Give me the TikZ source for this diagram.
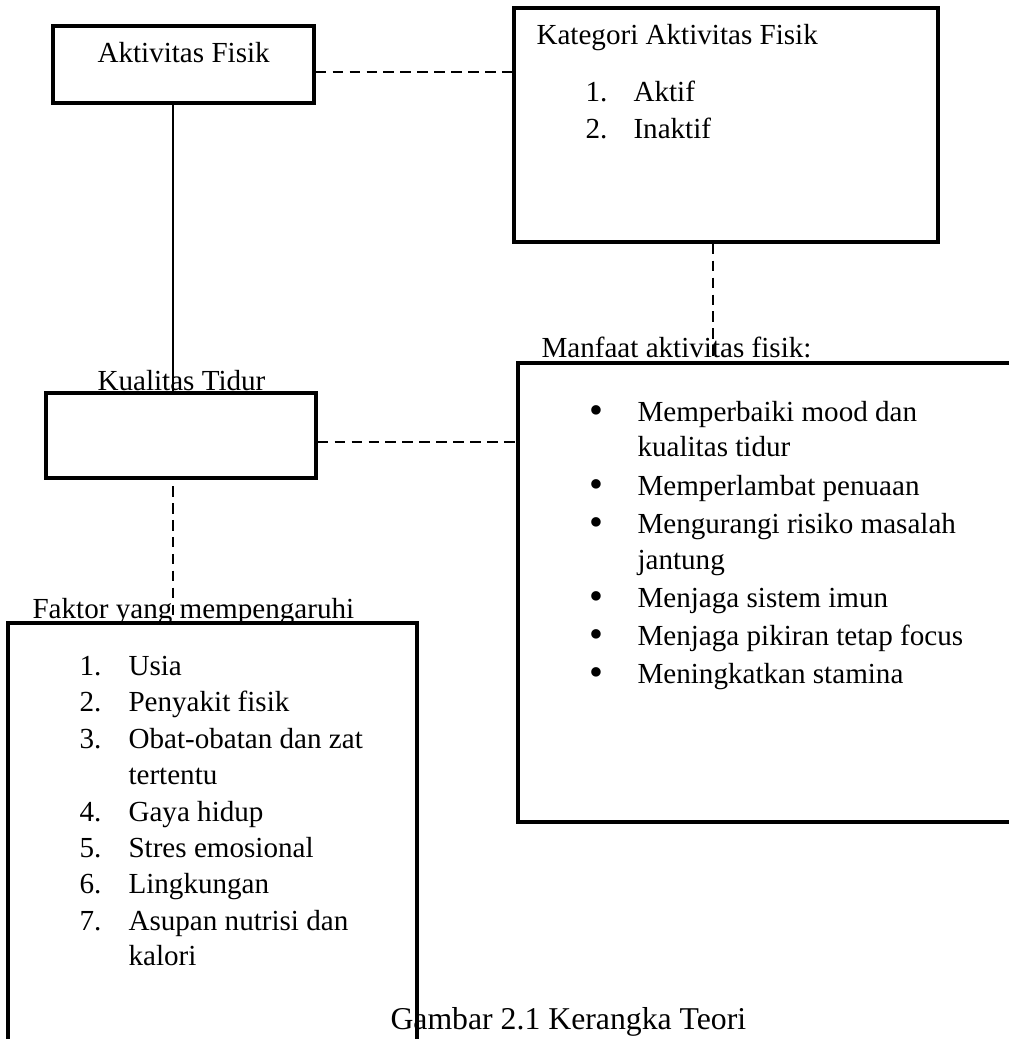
\documentclass[tikz,border=0pt]{standalone}
\usepackage{fontspec}
\setmainfont{Liberation Serif}
\begin{document}
\begin{tikzpicture}[x=0.378pt, y=-0.378pt,
  box/.style={draw=black, line width=1.3pt, inner sep=0pt},
  txt/.style={anchor=base west, inner sep=0pt, font=\fontsize{11}{13}\selectfont},
  dot/.style={anchor=base west, inner sep=0pt, font=\fontsize{15}{15}\selectfont},
  link/.style={line width=0.9pt, dash pattern=on 4pt off 2.4pt}]
 \useasboundingbox (0,0) rectangle (1009,1039);
 \clip (0,0) rectangle (1009,1039);
 \fill[white] (0,0) rectangle (1009,1039);

  \node[box, minimum width=261*0.378pt, minimum height=77*0.378pt] (akt) at (183.5,64.5) {};
  \node[box, minimum width=424*0.378pt, minimum height=234*0.378pt] (kat) at (726,125) {};
  \node[box, minimum width=270*0.378pt, minimum height=85*0.378pt] (kual) at (181,435.5) {};
  \node[box, minimum width=522*0.378pt, minimum height=459*0.378pt] (man) at (779,592.5) {};
  \node[box, minimum width=409*0.378pt, minimum height=447*0.378pt] (fak) at (212.5,846.5) {};

  \coordinate (col) at (173,0);
  \draw[line width=0.9pt] (akt.south -| col) -- (kual.north -| col);
  \draw[link] ([yshift=-2.8pt]akt.east) -- ([yshift=-2.8pt]akt.east -| kat.west);
  \draw[link] ([xshift=-4.9pt]kat.south) -- ([xshift=-4.9pt]kat.south |- man.north);
  \draw[link] ([yshift=-2.5pt]kual.east) -- ([yshift=-2.5pt]kual.east -| man.west);
  \draw[link, dash phase=4pt] (kual.south -| col) -- (fak.north -| col);

  \node[txt] (aktT) at (97,63) {Aktivitas Fisik};

  \node[txt] (katT) at (536,45) {Kategori Aktivitas Fisik};
  \node[txt] (katN1) at (585,102) {1.};
  \node[txt] (kat1) at (633,102) {Aktif};
  \node[txt] (katN2) at (585,138) {2.};
  \node[txt] (kat2) at (633,138) {Inaktif};

  \node[txt] (kualT) at (97,390) {Kualitas Tidur};

  \node[txt] (manT) at (541,357) {Manfaat aktivitas fisik:};
  \node[dot] (manB1) at (589,423) {\textbullet};
  \node[txt] (man1) at (637,421) {Memperbaiki mood dan};
  \node[txt] (man1b) at (637,456) {kualitas tidur};
  \node[dot] (manB2) at (589,497) {\textbullet};
  \node[txt] (man2) at (637,495) {Memperlambat penuaan};
  \node[dot] (manB3) at (589,535) {\textbullet};
  \node[txt] (man3) at (637,533) {Mengurangi risiko masalah};
  \node[txt] (man3b) at (637,569) {jantung};
  \node[dot] (manB4) at (589,609) {\textbullet};
  \node[txt] (man4) at (637,607) {Menjaga sistem imun};
  \node[dot] (manB5) at (589,647) {\textbullet};
  \node[txt] (man5) at (637,645) {Menjaga pikiran tetap focus};
  \node[dot] (manB6) at (589,685) {\textbullet};
  \node[txt] (man6) at (637,683) {Meningkatkan stamina};

  \node[txt] (fakT) at (32,618) {Faktor yang mempengaruhi};
  \node[txt] (fakN1) at (79,675) {1.};
  \node[txt] (fak1) at (128,675) {Usia};
  \node[txt] (fakN2) at (79,711) {2.};
  \node[txt] (fak2) at (128,711) {Penyakit fisik};
  \node[txt] (fakN3) at (79,748) {3.};
  \node[txt] (fak3) at (128,748) {Obat-obatan dan zat};
  \node[txt] (fak3b) at (128,784) {tertentu};
  \node[txt] (fakN4) at (79,821) {4.};
  \node[txt] (fak4) at (128,821) {Gaya hidup};
  \node[txt] (fakN5) at (79,857) {5.};
  \node[txt] (fak5) at (128,857) {Stres emosional};
  \node[txt] (fakN6) at (79,893) {6.};
  \node[txt] (fak6) at (128,893) {Lingkungan};
  \node[txt] (fakN7) at (79,930) {7.};
  \node[txt] (fak7) at (128,930) {Asupan nutrisi dan};
  \node[txt] (fak7b) at (128,965) {kalori};

  \node[txt, font=\fontsize{12}{14}\selectfont] (cap) at (390,1029) {Gambar 2.1 Kerangka Teori};
\end{tikzpicture}
\end{document}
